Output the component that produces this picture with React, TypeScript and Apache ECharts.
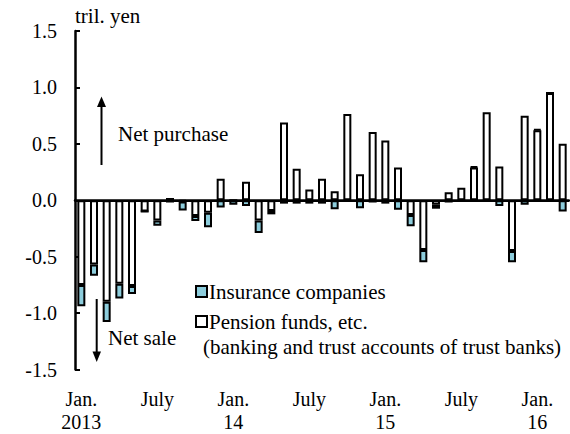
import React, { useEffect, useRef } from 'react';
import * as echarts from 'echarts';

// Monthly, Jan 2013 – Mar 2016 (labels shown every 6 months)
const categories = [
  'Jan.\n2013', 'Feb.', 'Mar.', 'Apr.', 'May', 'June', 'July', 'Aug.', 'Sep.', 'Oct.', 'Nov.', 'Dec.',
  'Jan.\n14', 'Feb.', 'Mar.', 'Apr.', 'May', 'June', 'July', 'Aug.', 'Sep.', 'Oct.', 'Nov.', 'Dec.',
  'Jan.\n15', 'Feb.', 'Mar.', 'Apr.', 'May', 'June', 'July', 'Aug.', 'Sep.', 'Oct.', 'Nov.', 'Dec.',
  'Jan.\n16', 'Feb.', 'Mar.',
];

// tril. yen
const pension = [
  -0.75, -0.57, -0.9, -0.74, -0.76, -0.1, -0.18, 0.02, -0.01, -0.14, -0.11, 0.19,
  0, 0.165, -0.18, -0.095, 0.69, 0.28, 0.095, 0.19, 0.08, 0.765, 0.23, 0.605,
  0.53, 0.29, -0.13, -0.44, -0.04, 0.07, 0.11, 0.29, 0.78, 0.3, -0.45, 0.75,
  0.62, 0.95, 0.5,
];

const insurance = [
  -0.19, -0.1, -0.18, -0.13, -0.07, 0, -0.045, -0.02, -0.08, -0.045, -0.13, -0.065,
  -0.04, -0.05, -0.11, -0.03, -0.03, -0.03, -0.03, -0.03, -0.08, -0.01, -0.07, -0.02,
  -0.03, -0.085, -0.1, -0.11, -0.035, -0.02, -0.015, 0.01, -0.005, -0.05, -0.1, -0.04,
  0.01, 0, -0.1,
];

const seriesNames = ['Insurance companies', 'Pension funds, etc.'];
const legendNote = '(banking and trust accounts of trust banks)';
const unitLabel = 'tril. yen';
const upLabel = 'Net purchase';
const downLabel = 'Net sale';

const FONT = 'Liberation Serif';
const BLUE = '#8DCDDC';

export default function App() {
  const ref = useRef<HTMLDivElement>(null);

  useEffect(() => {
    const chart = echarts.init(ref.current!, null, { renderer: 'svg' });
    const txt = (text: string, x: number, y: number, size = 21) => ({
      type: 'text',
      x,
      y,
      silent: true,
      style: { text, fontSize: size, fontFamily: FONT, fill: '#000', align: 'left', verticalAlign: 'middle' },
    });
    chart.setOption({
      animation: false,
      textStyle: { fontFamily: FONT },
      grid: { left: 75, right: 1, top: 31, bottom: 64.5, containLabel: false },
      xAxis: {
        type: 'category',
        data: categories,
        boundaryGap: true,
        axisLine: { lineStyle: { color: '#000', width: 2.5 } },
        axisTick: { interval: 5, length: 6, lineStyle: { color: '#000', width: 2 } },
        axisLabel: {
          interval: 5,
          color: '#000',
          fontSize: 20,
          fontFamily: FONT,
          lineHeight: 23,
          margin: 18,
        },
        splitLine: { show: false },
      },
      yAxis: {
        type: 'value',
        min: -1.5,
        max: 1.5,
        interval: 0.5,
        axisLine: { show: true, lineStyle: { color: '#000', width: 2.5 } },
        axisTick: { show: true, inside: true, length: 5, lineStyle: { color: '#000', width: 2 } },
        axisLabel: {
          color: '#000',
          fontSize: 20,
          fontFamily: FONT,
          margin: 18,
          formatter: (v: number) => v.toFixed(1),
        },
        splitLine: { show: false },
      },
      legend: {
        data: seriesNames,
        orient: 'vertical',
        left: 195,
        top: 281,
        padding: 0,
        itemWidth: 11,
        itemHeight: 11,
        itemGap: 9,
        icon: 'rect',
        selectedMode: false,
        textStyle: { fontSize: 21, fontFamily: FONT, color: '#000', padding: [0, 0, 0, -3] },
      },
      series: [
        {
          name: seriesNames[1],
          type: 'bar',
          stack: 'total',
          data: pension,
          barWidth: 8,
          itemStyle: { color: '#fff', borderColor: '#000', borderWidth: 2 },
          markLine: {
            silent: true,
            symbol: ['none', 'none'],
            label: { show: false },
            lineStyle: { color: '#000', width: 2, type: 'solid' },
            data: [{ yAxis: 0 }],
          },
        },
        {
          name: seriesNames[0],
          type: 'bar',
          stack: 'total',
          data: insurance,
          barWidth: 8,
          itemStyle: { color: BLUE, borderColor: '#000', borderWidth: 2 },
        },
      ],
      graphic: [
        txt(unitLabel, 75, 16),
        txt(upLabel, 118, 134),
        txt(downLabel, 108, 338),
        txt(legendNote, 203, 347),
        { type: 'line', silent: true, shape: { x1: 101.5, y1: 165, x2: 101.5, y2: 104 }, style: { stroke: '#000', lineWidth: 2 } },
        { type: 'polygon', silent: true, shape: { points: [[101.5, 96.5], [97, 107], [106, 107]] }, style: { fill: '#000' } },
        { type: 'line', silent: true, shape: { x1: 96.7, y1: 299, x2: 96.7, y2: 354 }, style: { stroke: '#000', lineWidth: 2 } },
        { type: 'polygon', silent: true, shape: { points: [[96.7, 362], [92.5, 351.5], [101, 351.5]] }, style: { fill: '#000' } },
      ],
    });
    return () => chart.dispose();
  }, []);

  return <div ref={ref} style={{ position: 'absolute', left: 0, top: 0, width: 570, height: 434 }} />;
}
